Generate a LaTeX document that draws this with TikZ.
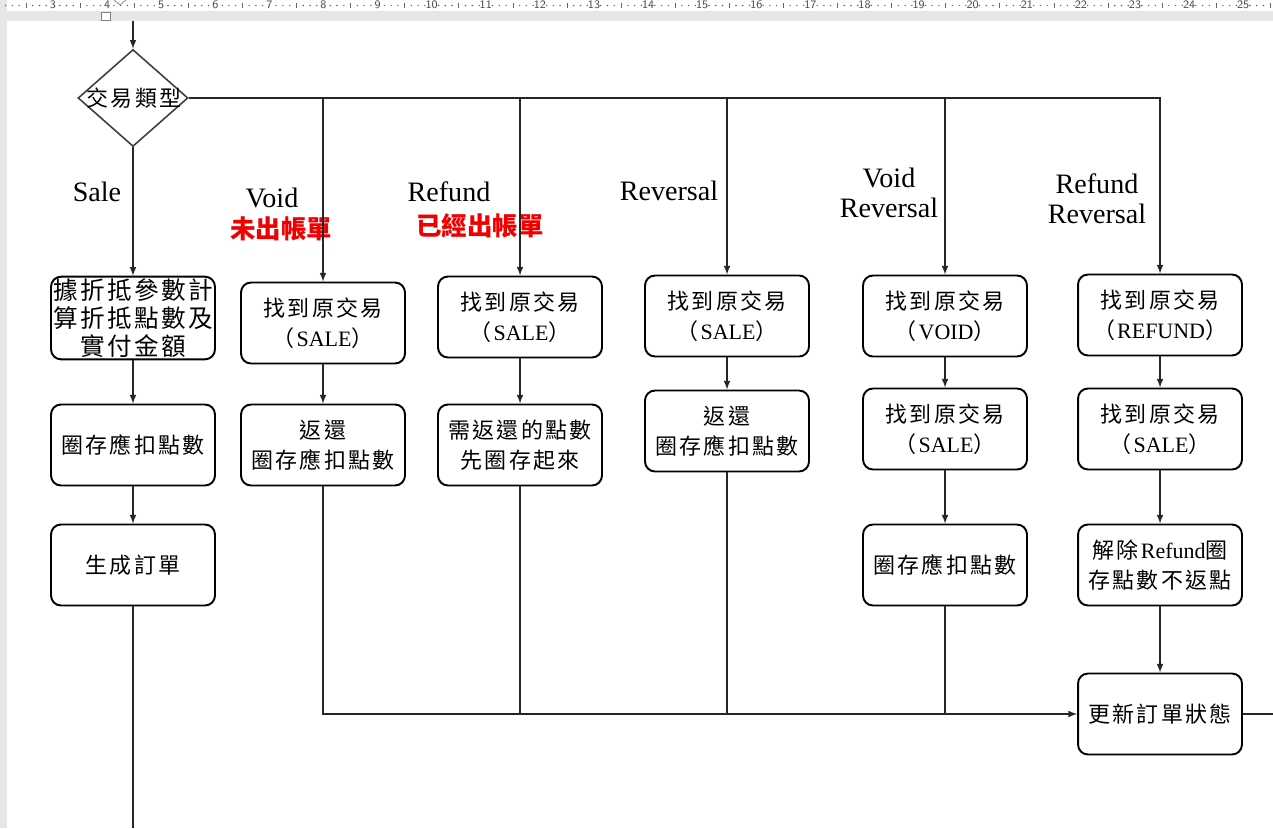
\documentclass[tikz,border=0pt]{standalone}
\usepackage{fontspec}
\setmainfont{Liberation Serif}
\newfontfamily\cjk{Noto Sans CJK TC}
\newfontfamily\cjkwide[LetterSpace=10]{Noto Sans CJK TC}
\usetikzlibrary{shapes.geometric}
\definecolor{rulergray}{HTML}{E6E6E6}
\definecolor{labelred}{HTML}{F00000}
\tikzset{
  stepbox/.style={draw, line width=1.1pt, rounded corners=0.2cm, minimum width=3.28cm,
    minimum height=1.62cm, align=center, inner sep=1pt, font=\cjkwide\fontsize{12.5}{17}\selectfont},
  decision/.style={diamond, draw=black!75, line width=0.9pt, aspect=1.13, inner sep=-3pt,
    minimum width=2.2cm, minimum height=1.94cm, font=\cjkwide\fontsize{12.5}{15}\selectfont},
  branch/.style={align=center, font=\fontsize{16}{17}\selectfont},
  note/.style={text=labelred, font=\cjk\bfseries\fontsize{14.5}{16}\selectfont},
  flow/.style={draw=black!85, line width=0.7pt},
}
\begin{document}
\begin{tikzpicture}[x=0.02cm, y=-0.02cm, >=latex]
    \useasboundingbox (0,0) rectangle (1273,828);
    \fill[white] (0,0) rectangle (1273,828);
    % regla
    \fill[rulergray] (0,11) rectangle (1273,21);
    \fill[rulergray] (0,0) rectangle (7,828);
    \foreach \n in {3,...,25}
    \node[font=\fontsize{6.5}{7}\sffamily, text=black!70, inner sep=0pt] (ruler\n) at ({53+54.1*(\n-3)},5) {\n};
    \foreach \j in {-7,...,180}{
      \pgfmathtruncatemacro\r{mod(\j+80,8)}
      \ifnum\r=4 \draw[black!60, line width=0.4pt] ({53+6.7625*\j},3) -- ({53+6.7625*\j},8);
      \else\ifnum\r>0 \fill[black!60] ({53+6.7625*\j},5.5) circle (0.45pt);\fi\fi
    }
    \draw[black!50, fill=white] (101,12) rectangle (110,20);
    \draw[black!50] (114,0) -- (120,5) -- (126,0);
    % decision
    \coordinate (start) at (133,21);
    \node[decision] (type) at (133,98) {\hspace{1.2pt}交易類型};
    % etiquetas de las ramas
    \node[branch] (lsale) at (97,192) {Sale};
    \node[branch] (lvoid) at (272,198) {Void};
    \node[note] (nvoid) at (281,229) {未出帳單};
    \node[branch] (lrefund) at (449,192) {Refund};
    \node[note] (nrefund) at (480,226) {已經出帳單};
    \node[branch] (lrev) at (669,191) {Reversal};
    \node[branch] (lvrev) at (889,193) {Void\\Reversal};
    \node[branch] (lrrev) at (1097,199) {Refund\\Reversal};
    % rama Sale
    \node[stepbox, font=\cjkwide\fontsize{14}{16}\selectfont] (sale1) at (133,318) {據折抵參數計\\算折抵點數及\\實付金額};
    \node[stepbox] (sale2) at (133,445) {圈存應扣點數};
    \node[stepbox] (sale3) at (133,565) {生成訂單};
    \coordinate (saleend) at (133,828);
    % rama Void
    \node[stepbox] (void1) at (323,323) {找到原交易\\（\textrm{SALE}）};
    \node[stepbox] (void2) at (323,445) {返還\\圈存應扣點數};
    % rama Refund
    \node[stepbox] (refund1) at (520,317) {找到原交易\\（\textrm{SALE}）};
    \node[stepbox] (refund2) at (520,445) {需返還的點數\\先圈存起來};
    % rama Reversal
    \node[stepbox] (rev1) at (727,316) {找到原交易\\（\textrm{SALE}）};
    \node[stepbox] (rev2) at (727,431) {返還\\圈存應扣點數};
    % rama Void Reversal
    \node[stepbox] (vrev1) at (945,316) {找到原交易\\（\textrm{VOID}）};
    \node[stepbox] (vrev2) at (945,429) {找到原交易\\（\textrm{SALE}）};
    \node[stepbox] (vrev3) at (945,565) {圈存應扣點數};
    % rama Refund Reversal
    \node[stepbox] (rrev1) at (1160,315) {找到原交易\\（\textrm{REFUND}）};
    \node[stepbox] (rrev2) at (1160,429) {找到原交易\\（\textrm{SALE}）};
    \node[stepbox] (rrev3) at (1160,565) {解除\textrm{Refund}圈\\存點數不返點};
    \node[stepbox] (update) at (1160,714) {更新訂單狀態};
    \coordinate (exit) at (1273,714);
    % conexiones
    \draw[flow,->] (start) -- (type);
    \draw[flow,->] (type) -- (sale1);
    \draw[flow,->] (sale1) -- (sale2);
    \draw[flow,->] (sale2) -- (sale3);
    \draw[flow] (sale3) -- (saleend);
    \draw[flow,->] (type.east) -| (rrev1);
    \foreach \b in {void1,refund1,rev1,vrev1}
    \draw[flow,->] (type.east -| \b.north) -- (\b);
    \draw[flow,->] (void1) -- (void2);
    \draw[flow,->] (refund1) -- (refund2);
    \draw[flow,->] (rev1) -- (rev2);
    \draw[flow,->] (vrev1) -- (vrev2);
    \draw[flow,->] (vrev2) -- (vrev3);
    \draw[flow,->] (rrev1) -- (rrev2);
    \draw[flow,->] (rrev2) -- (rrev3);
    \draw[flow,->] (rrev3) -- (update);
    % linea de abajo hacia el estado
    \draw[flow,->] (void2) |- (update);
    \foreach \b in {refund2,rev2,vrev3}
    \draw[flow] (\b) -- (\b.south |- update.west);
    \draw[flow] (update) -- (exit);
\end{tikzpicture}
\end{document}
